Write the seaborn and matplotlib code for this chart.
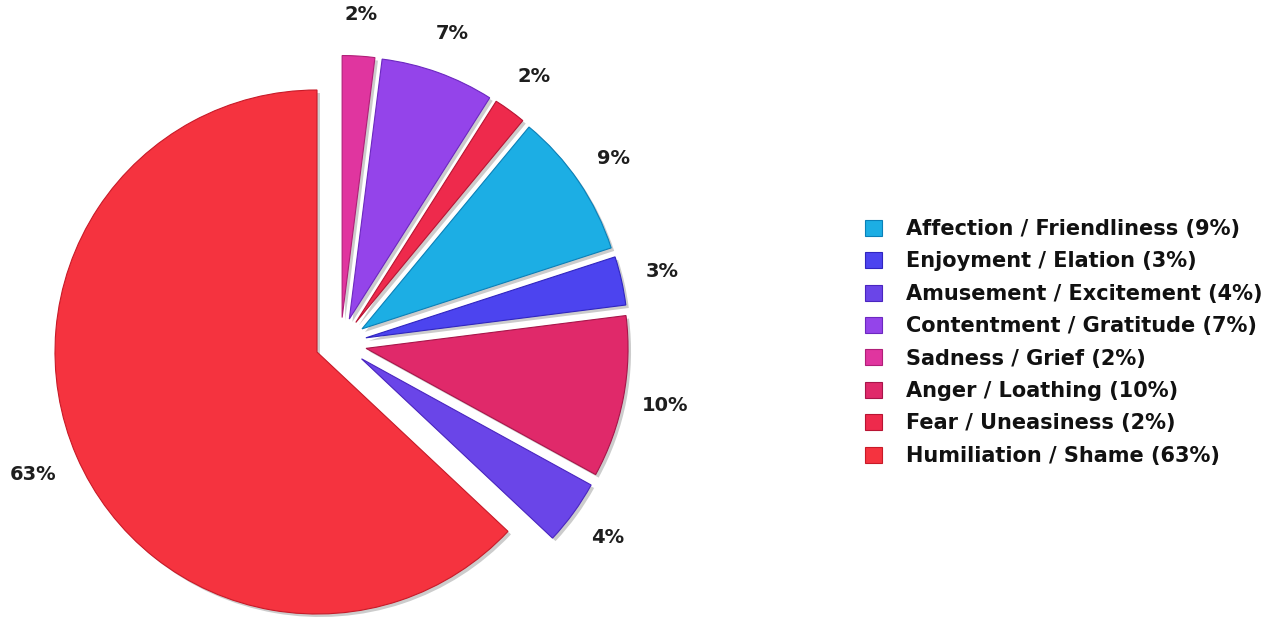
import numpy as np
import matplotlib
matplotlib.use("Agg")
import matplotlib.pyplot as plt
from matplotlib.patches import Wedge, Patch
import seaborn as sns

# slices, clockwise from 12 o'clock
emotions = [
    "Sadness / Grief",
    "Contentment / Gratitude",
    "Fear / Uneasiness",
    "Affection / Friendliness",
    "Enjoyment / Elation",
    "Anger / Loathing",
    "Amusement / Excitement",
    "Humiliation / Shame",
]
shares = [2, 7, 2, 9, 3, 10, 4, 63]
colors = ["#e0359f", "#9444ea", "#ee2a4c", "#1caee4", "#4c44ef",
          "#e0296a", "#6a45e8", "#f5333f"]
edges = ["#b01f78", "#6c28c0", "#b81433", "#0a80b8", "#3025c0",
         "#a8154a", "#4a25c0", "#c81a28"]

# legend order
legend_order = [
    "Affection / Friendliness",
    "Enjoyment / Elation",
    "Amusement / Excitement",
    "Contentment / Gratitude",
    "Sadness / Grief",
    "Anger / Loathing",
    "Fear / Uneasiness",
    "Humiliation / Shame",
]

sns.set_style("white")
plt.rcParams["font.family"] = ["DejaVu Sans"]

W, H = 1273, 618
fig = plt.figure(figsize=(W / 100, H / 100), dpi=100)
ax = fig.add_axes([0, 0, 1, 1])

R = 262
center = (317, H - 352)
# explode is in data units (pixels here)
explode = [26] * 7 + [0]

wedges, _ = ax.pie(
    shares,
    colors=colors,
    startangle=90,
    counterclock=False,
    explode=explode,
    radius=R,
    center=center,
    wedgeprops=dict(linewidth=0.8),
)

# push the small slices out together as a group
group_shift = np.array([23.5, 8.5])
for i, w in enumerate(wedges):
    w.set_edgecolor(edges[i])
    if explode[i] > 0:
        w.set_center(tuple(np.array(w.center) + group_shift))
    w.set_zorder(3)
    # soft grey drop shadow
    sh = Wedge((w.center[0] + 3, w.center[1] - 3), w.r, w.theta1, w.theta2,
               facecolor="#cccccc", edgecolor="none", zorder=2)
    ax.add_patch(sh)

    mid = np.deg2rad((w.theta1 + w.theta2) / 2)
    ld = 1.16 if explode[i] > 0 else 1.18
    ax.text(w.center[0] + ld * R * np.cos(mid), w.center[1] + ld * R * np.sin(mid),
            f"{shares[i]}%", ha="center", va="center", fontsize=14,
            fontweight="bold", color="#1e1e1e", zorder=4)

ax.set_xlim(0, W)
ax.set_ylim(0, H)
ax.set_aspect("equal")
ax.axis("off")

handles = [Patch(facecolor=colors[emotions.index(n)], edgecolor=edges[emotions.index(n)],
                 linewidth=0.8) for n in legend_order]
labels = [f"{n} ({shares[emotions.index(n)]}%)" for n in legend_order]
leg = ax.legend(
    handles, labels,
    loc="upper left",
    bbox_to_anchor=(865 / W, 1 - 219 / H),
    bbox_transform=fig.transFigure,
    frameon=False,
    borderpad=0, borderaxespad=0,
    handlelength=0.8, handleheight=0.8,
    handletextpad=1.15, labelspacing=0.595,
    prop=dict(size=15, weight="bold"),
)
for t in leg.get_texts():
    t.set_color("#111111")

fig.savefig("out.png", dpi=100)
